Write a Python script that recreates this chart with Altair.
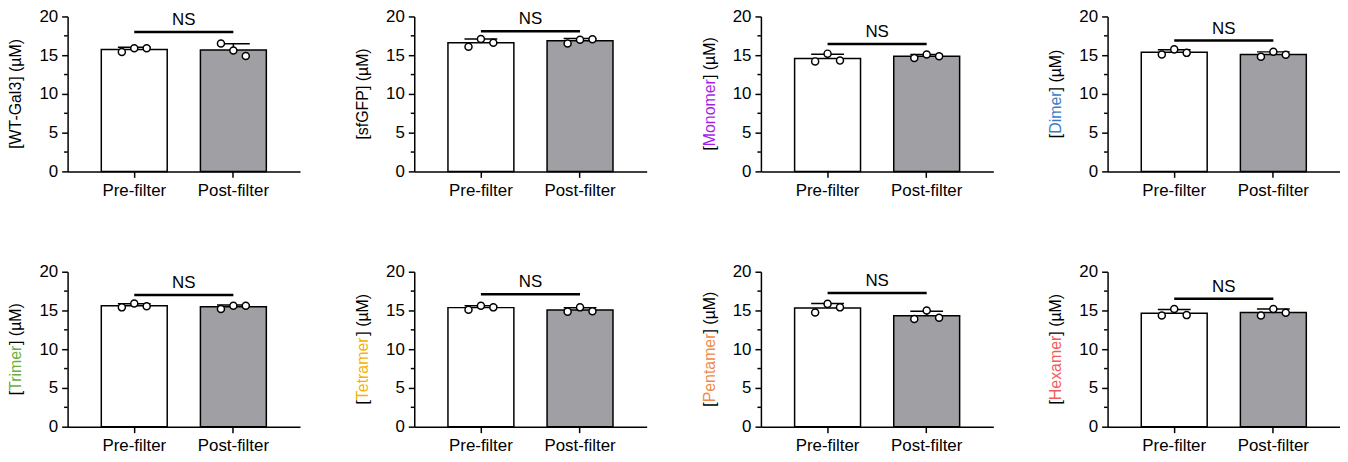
import altair as alt
import pandas as pd

groups = ["Pre-filter", "Post-filter"]
names = ["WT-Gal3", "sfGFP", "Monomer", "Dimer", "Trimer", "Tetramer", "Pentamer", "Hexamer"]
name_colors = ["#000000", "#000000", "#a61ee8", "#3a7dc5", "#6aaf3d", "#f5b300", "#f08a4b", "#f25c5c"]
pre_values = [
    [15.4, 15.9, 15.9],
    [16.1, 17.1, 16.6],
    [14.2, 15.2, 14.3],
    [15.1, 15.75, 15.3],
    [15.4, 15.9, 15.55],
    [15.1, 15.6, 15.4],
    [14.75, 15.85, 15.4],
    [14.35, 15.2, 14.4],
]
post_values = [
    [16.5, 15.6, 14.9],
    [16.5, 17.0, 17.05],
    [14.65, 15.1, 14.85],
    [14.8, 15.45, 15.05],
    [15.2, 15.6, 15.6],
    [14.85, 15.4, 14.9],
    [13.9, 15.0, 14.05],
    [14.35, 15.2, 14.7],
]
ns_levels = [18.0, 18.1, 16.45, 16.9, 17.0, 17.1, 17.25, 16.5]
y_ticks = [0, 5, 10, 15, 20]
y_minor = [2.5, 7.5, 12.5, 17.5]

W, H = 234, 156
FONT = "Liberation Sans"
TITLE_FS = 16
LABEL_FS = 17
GRAY = "#a09fa4"

# Arial / Liberation Sans advance widths (units per 1000 em)
ADV = {"[": 278, "]": 278, " ": 278, "(": 333, ")": 333, "µ": 576, "M": 833,
       "W": 944, "T": 611, "-": 333, "G": 778, "a": 556, "l": 222, "3": 556,
       "s": 500, "f": 278, "F": 611, "P": 667, "o": 556, "n": 556, "m": 833,
       "e": 556, "r": 333, "D": 722, "i": 222, "t": 278, "H": 722, "x": 500}


def tw(s, fs=TITLE_FS):
    return sum(ADV.get(c, 556) for c in s) / 1000.0 * fs


xscale = alt.Scale(domain=groups, paddingInner=0.335, paddingOuter=0.34)
yscale = alt.Scale(domain=[0, 20], nice=False)
xaxis = alt.Axis(title=None, labelAngle=0, tickSize=6, labelPadding=5,
                 labelFontSize=LABEL_FS, domainWidth=1.5, tickWidth=1.5)
yaxis = alt.Axis(title=None, values=y_ticks, tickSize=6, labelPadding=4,
                 labelFontSize=LABEL_FS, domainWidth=1.5, tickWidth=1.5, grid=False)


def panel(i):
    rows = []
    for g, vals in zip(groups, [pre_values[i], post_values[i]]):
        for r, v in enumerate(vals):
            rows.append({"group": g, "rep": r, "value": v})
    pts = pd.DataFrame(rows)
    summ = pts.groupby("group", sort=False)["value"].agg(["mean", "std"]).reset_index()
    summ["hi"] = summ["mean"] + summ["std"]

    X = alt.X("group:N", sort=groups, scale=xscale, axis=xaxis)

    bars = alt.Chart(summ).mark_bar(stroke="black", strokeWidth=1.5).encode(
        x=X,
        y=alt.Y("mean:Q", scale=yscale, axis=yaxis),
        fill=alt.Fill("group:N", scale=alt.Scale(domain=groups, range=["white", GRAY]), legend=None),
    )
    err = alt.Chart(summ).mark_rule(color="black", strokeWidth=1.5).encode(
        x=X, y=alt.Y("mean:Q", scale=yscale, axis=yaxis), y2="hi:Q")
    cap = alt.Chart(summ).mark_tick(color="black", size=33, thickness=1.5, opacity=1).encode(
        x=X, y=alt.Y("hi:Q", scale=yscale, axis=yaxis))

    offs = [-12.5, 0, 12.5]
    point_layers = []
    for r in range(3):
        point_layers.append(
            alt.Chart(pts[pts["rep"] == r]).mark_point(
                shape="circle", filled=True, fill="white", stroke="black",
                strokeWidth=1.5, size=50, opacity=1, xOffset=offs[r]
            ).encode(x=X, y=alt.Y("value:Q", scale=yscale, axis=yaxis))
        )

    nsdf = pd.DataFrame({"a": [groups[0]], "b": [groups[1]], "ns": [ns_levels[i]]})
    nsrule = alt.Chart(nsdf).mark_rule(color="black", strokeWidth=2.5).encode(
        x=alt.X("a:N", sort=groups, scale=xscale, axis=xaxis),
        x2="b:N",
        y=alt.Y("ns:Q", scale=yscale, axis=yaxis),
    )
    nstext = alt.Chart(nsdf).mark_text(text="NS", fontSize=LABEL_FS, font=FONT,
                                       baseline="bottom", dy=-3, color="black").encode(
        x=alt.value(W / 2), y=alt.Y("ns:Q", scale=yscale, axis=yaxis))

    minor = alt.Chart(pd.DataFrame({"v": y_minor})).mark_rule(color="black", strokeWidth=1.5).encode(
        y=alt.Y("v:Q", scale=yscale, axis=yaxis), x=alt.value(-3.5), x2=alt.value(0))

    # multi-coloured y title: "[" + name + "] (µM)"
    pieces = ["[", names[i], "] (µM)"]
    colors = ["black", name_colors[i], "black"]
    total = sum(tw(p) for p in pieces)
    ystart = H / 2 + total / 2
    title_layers = []
    acc = 0.0
    one = pd.DataFrame({"k": [0]})
    for p, c in zip(pieces, colors):
        title_layers.append(
            alt.Chart(one).mark_text(text=p, angle=270, align="left", baseline="alphabetic",
                                     fontSize=TITLE_FS, font=FONT, color=c).encode(
                x=alt.value(-46.5), y=alt.value(ystart - acc))
        )
        acc += tw(p)

    return alt.layer(bars, err, cap, *point_layers, nsrule, nstext, minor, *title_layers).properties(
        width=W, height=H)


row1 = alt.hconcat(*[panel(i) for i in range(4)], spacing=55)
row2 = alt.hconcat(*[panel(i) for i in range(4, 8)], spacing=55)
chart = alt.vconcat(row1, row2, spacing=65,
                    padding={"top": -2, "left": 0, "right": 0, "bottom": 0}).configure_view(stroke=None).configure_axis(
    labelFont=FONT, labelColor="black", domainColor="black", tickColor="black"
).configure_text(font=FONT)

chart.save("out.html", embed_options={"renderer": "svg", "actions": False})
